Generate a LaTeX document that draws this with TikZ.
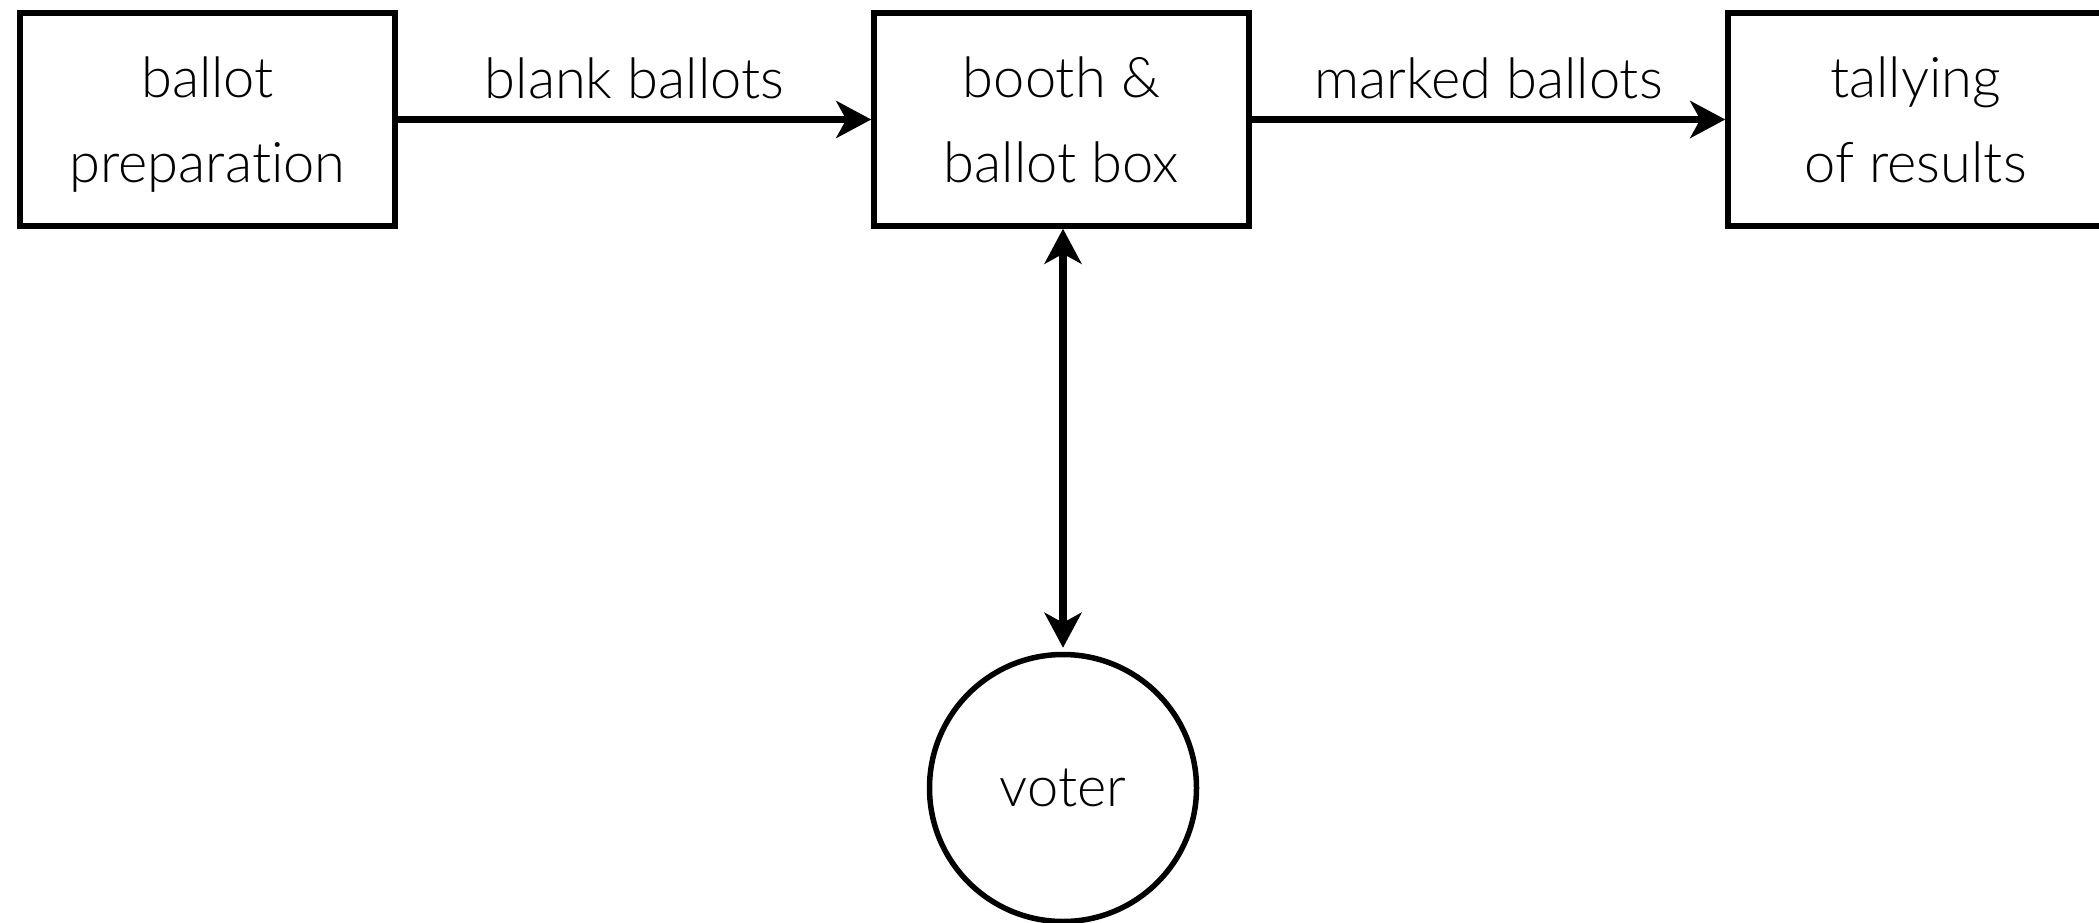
\documentclass[tikz,border=0pt]{standalone}
\usepackage{fontspec}
\setmainfont{Lato Light}[Ligatures={NoCommon}]
\usetikzlibrary{arrows.meta}
\begin{document}
\begin{tikzpicture}[x=1pt,y=-1pt,
  every node/.style={font=\fontsize{56}{85}\selectfont},
  stage/.style={draw, line width=5.5pt, minimum width=375pt, minimum height=213pt,
    inner sep=0pt, align=center, text depth=0pt},
  flow/.style={line width=7.5pt, -{Stealth[length=35pt,width=37pt,inset=10pt]}},
  both/.style={line width=7.5pt, {Stealth[length=35pt,width=37pt,inset=10pt]}-{Stealth[length=35pt,width=37pt,inset=10pt]}},
  flowlabel/.style={anchor=base, inner sep=0pt, yshift=21pt}]
\useasboundingbox (0,0) rectangle (2099,923);

% the three stages of the ballot's journey
\node[stage] (prep)  at (207.5,119.5)  {ballot\\preparation};
\node[stage] (booth) at (1061.5,119.5) {booth \&\\ballot box};
\node[stage] (tally) at (1915.5,119.5) {tallying\\of results};

% the voter
\node[circle, draw, line width=5.5pt, minimum size=267pt, inner sep=0pt] (voter) at (1063,788) {voter};

% ballot flows
\draw[flow] (prep.east) -- node[flowlabel] (blank) {blank ballots} (booth.west);
\draw[flow] (booth.east) -- node[flowlabel] (marked) {marked ballots} (tally.west);
\draw[both, shorten >=4pt] (voter.north |- booth.south) -- (voter.north);
\end{tikzpicture}
\end{document}
